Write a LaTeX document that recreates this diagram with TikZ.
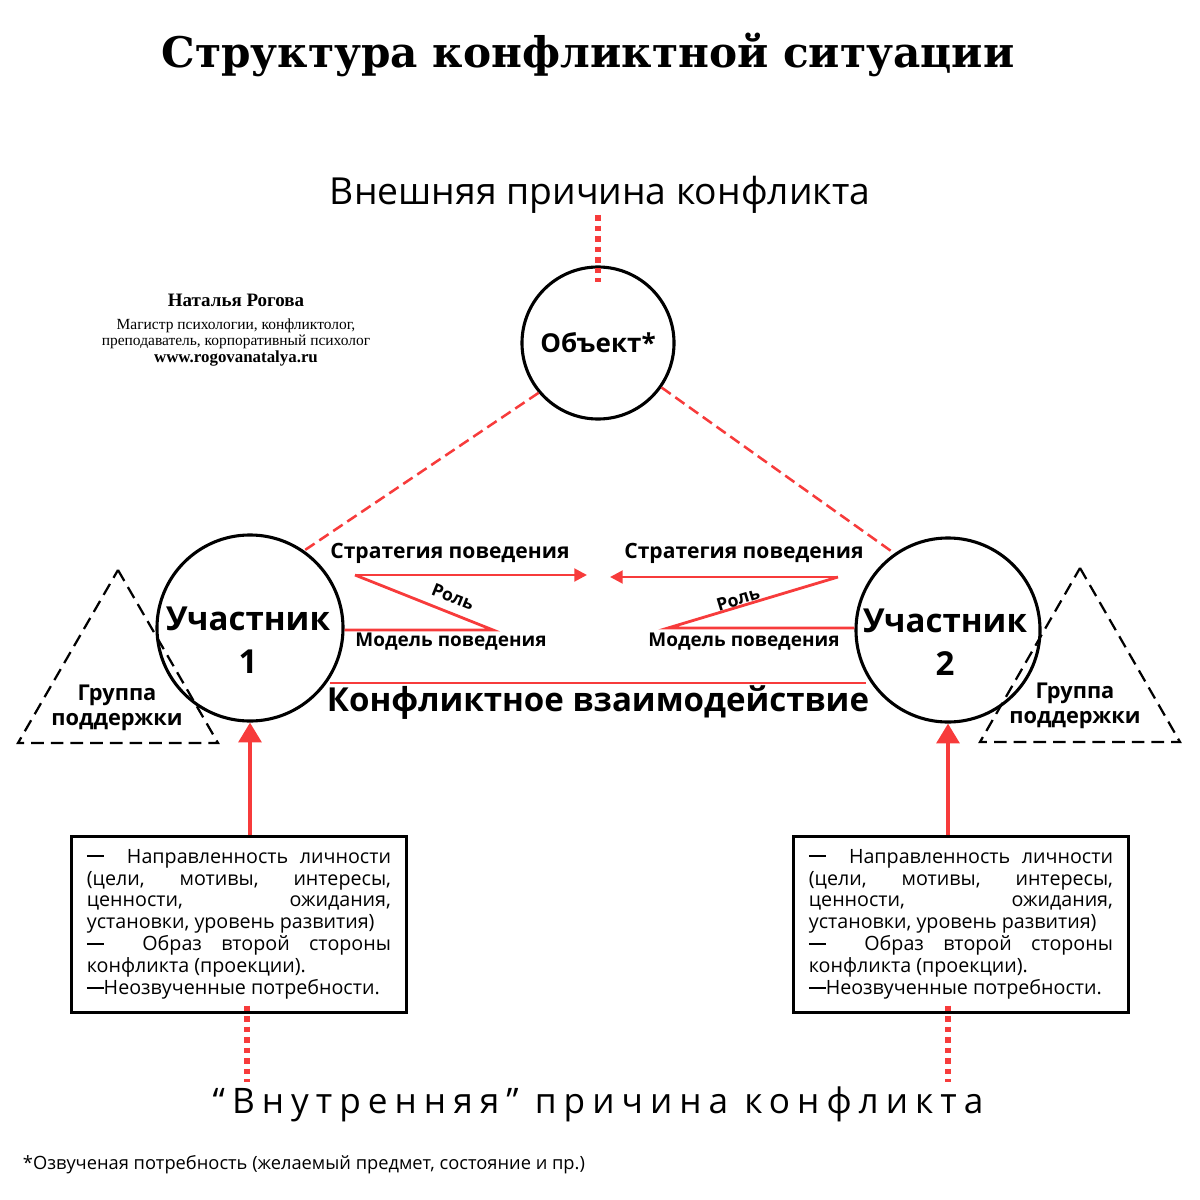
\documentclass[tikz,border=0pt]{standalone}
\usepackage{fontspec}
\setmainfont{Open Sans}
\newfontfamily\slab{DejaVu Serif}
\newfontfamily\autfont{Liberation Serif}
\usetikzlibrary{arrows.meta}
\definecolor{cred}{HTML}{F73B3B}
\tikzset{
  circ/.style={draw,circle,line width=2.2pt,inner sep=0pt,align=center},
  grp/.style={draw,line width=1.6pt,dash pattern=on 9pt off 5pt},
  link/.style={cred,line width=1.8pt,dash pattern=on 8pt off 4pt},
  cause/.style={cred,line width=4.5pt,dash pattern=on 4pt off 3.5pt},
  zig/.style={cred,line width=2pt},
  up/.style={cred,line width=3pt,-{Triangle[length=14pt,width=16pt]}},
  infobox/.style={draw,line width=2pt,inner xsep=11pt,inner ysep=9pt,text width=7.6cm,align=justify,font=\fontsize{14}{15.6}\selectfont,anchor=north west},
  lbl/.style={font=\bfseries\fontsize{15}{17}\selectfont},
  plbl/.style={align=center,font=\bfseries\fontsize{23.5}{31}\selectfont},
}
\begin{document}
\begin{tikzpicture}[x=0.025cm,y=-0.025cm]
\useasboundingbox (0,0) rectangle (1200,1200);

%titles:
\node (title) at (588,55) {\slab\bfseries\fontsize{30}{34}\selectfont Структура конфликтной ситуации};
\node (ext) at (600,195) {\fontsize{26.5}{30}\selectfont Внешняя причина конфликта};
\node (int) at (598,1104) {\addfontfeature{LetterSpace=20}\fontsize{25}{30}\selectfont “Внутренняя” причина конфликта};
\node[anchor=west] (note) at (18,1165) {\fontsize{13}{15}\selectfont *Озвученая потребность (желаемый предмет, состояние и пр.)};
\node[align=center,font=\autfont\fontsize{11}{11.5}\selectfont] (author) at (236,330) {{\bfseries\fontsize{13.5}{16}\selectfont Наталья Рогова}\\[5pt]
  Магистр психологии, конфликтолог,\\ преподаватель, корпоративный психолог\\ {\bfseries\fontsize{12}{12}\selectfont www.rogovanatalya.ru}};

%circles:
\node[circ,minimum size=3.8cm,font=\bfseries\fontsize{18.5}{20}\selectfont] (obj) at (598,343) {Объект*};
\node[circ,minimum size=4.65cm] (p1) at (250,628) {};
\node[circ,minimum size=4.6cm] (p2) at (948,630) {};
\node[plbl] (p1t) at (248,640) {Участник\\1};
\node[plbl] (p2t) at (945,642) {Участник\\2};

%support groups:
\draw[grp] (118,570) -- (218,743) -- (18,743) -- cycle;
\draw[grp] (1080,568) -- (1180,742) -- (980,742) -- cycle;
\node[align=center,font=\bfseries\fontsize{15.5}{18}\selectfont] (g1) at (117,708) {Группа\\поддержки};
\node[align=center,font=\bfseries\fontsize{15.5}{18}\selectfont] (g2) at (1075,706) {Группа\\поддержки};

%object links:
\draw[link] (obj.220) -- (p1.55);
\draw[link] (obj.-35) -- (p2.125);
\coordinate (top) at (598,215);
\draw[cause] (top) -- ([yshift=-12pt]obj.north);

%zigzags:
\coordinate (m1) at (493,630);
\coordinate (s1) at (355,575);
\coordinate (a1) at (587,575);
\coordinate (m2) at (668,628);
\coordinate (s2) at (838,577);
\coordinate (a2) at (610,577);
\draw[zig] (p1.east |- m1) -- (m1) -- (s1);
\draw[zig,-{Triangle[length=9pt,width=9pt]}] (s1) -- (a1);
\draw[zig] (p2.west |- m2) -- (m2) -- (s2);
\draw[zig,-{Triangle[length=9pt,width=9pt]}] (s2) -- (a2);
\node[lbl] (st1) at (450,553) {Стратегия поведения};
\node[lbl] (st2) at (744,553) {Стратегия поведения};
\node[lbl,font=\bfseries\fontsize{13.5}{15}\selectfont] (md1) at (451,642) {Модель поведения};
\node[lbl,font=\bfseries\fontsize{13.5}{15}\selectfont] (md2) at (744,642) {Модель поведения};
\node[font=\bfseries\fontsize{12.5}{13}\selectfont,rotate=-22,inner sep=0pt] (r1) at (453,597) {Роль};
\node[font=\bfseries\fontsize{12.5}{13}\selectfont,rotate=17,inner sep=0pt] (r2) at (738,599) {Роль};

%interaction:
\coordinate (i1) at (330,683);
\coordinate (i2) at (866,683);
\draw[cred,line width=2pt] (i1) -- (i2);
\node[font=\bfseries\fontsize{23.5}{24}\selectfont] (inter) at (598,703) {Конфликтное взаимодействие};

%boxes:
\newcommand\justtext{\setlength\parindent{0pt}\setlength\parfillskip{0pt plus 1fil}%
  \rule[4pt]{12pt}{1.5pt}\ \ Направленность личности (цели, мотивы, интересы, ценности, ожидания, установки, уровень развития)\par
  \rule[4pt]{12pt}{1.5pt}\ \ Образ второй стороны конфликта (проекции).\par
  \rule[4pt]{12pt}{1.5pt}Неозвученные потребности.}
\node[infobox] (b1) at (70,835) {\justtext};
\node[infobox] (b2) at (792,835) {\justtext};

\draw[up] (b1.north -| p1) -- (p1.south);
\draw[up] (b2.north -| p2) -- (p2.south);
\coordinate (bot1) at (247,1082);
\coordinate (bot2) at (948,1082);
\draw[cause] (b1.south -| bot1) ++(0,-8) -- (bot1);
\draw[cause] (b2.south -| bot2) ++(0,-8) -- (bot2);
\end{tikzpicture}
\end{document}
